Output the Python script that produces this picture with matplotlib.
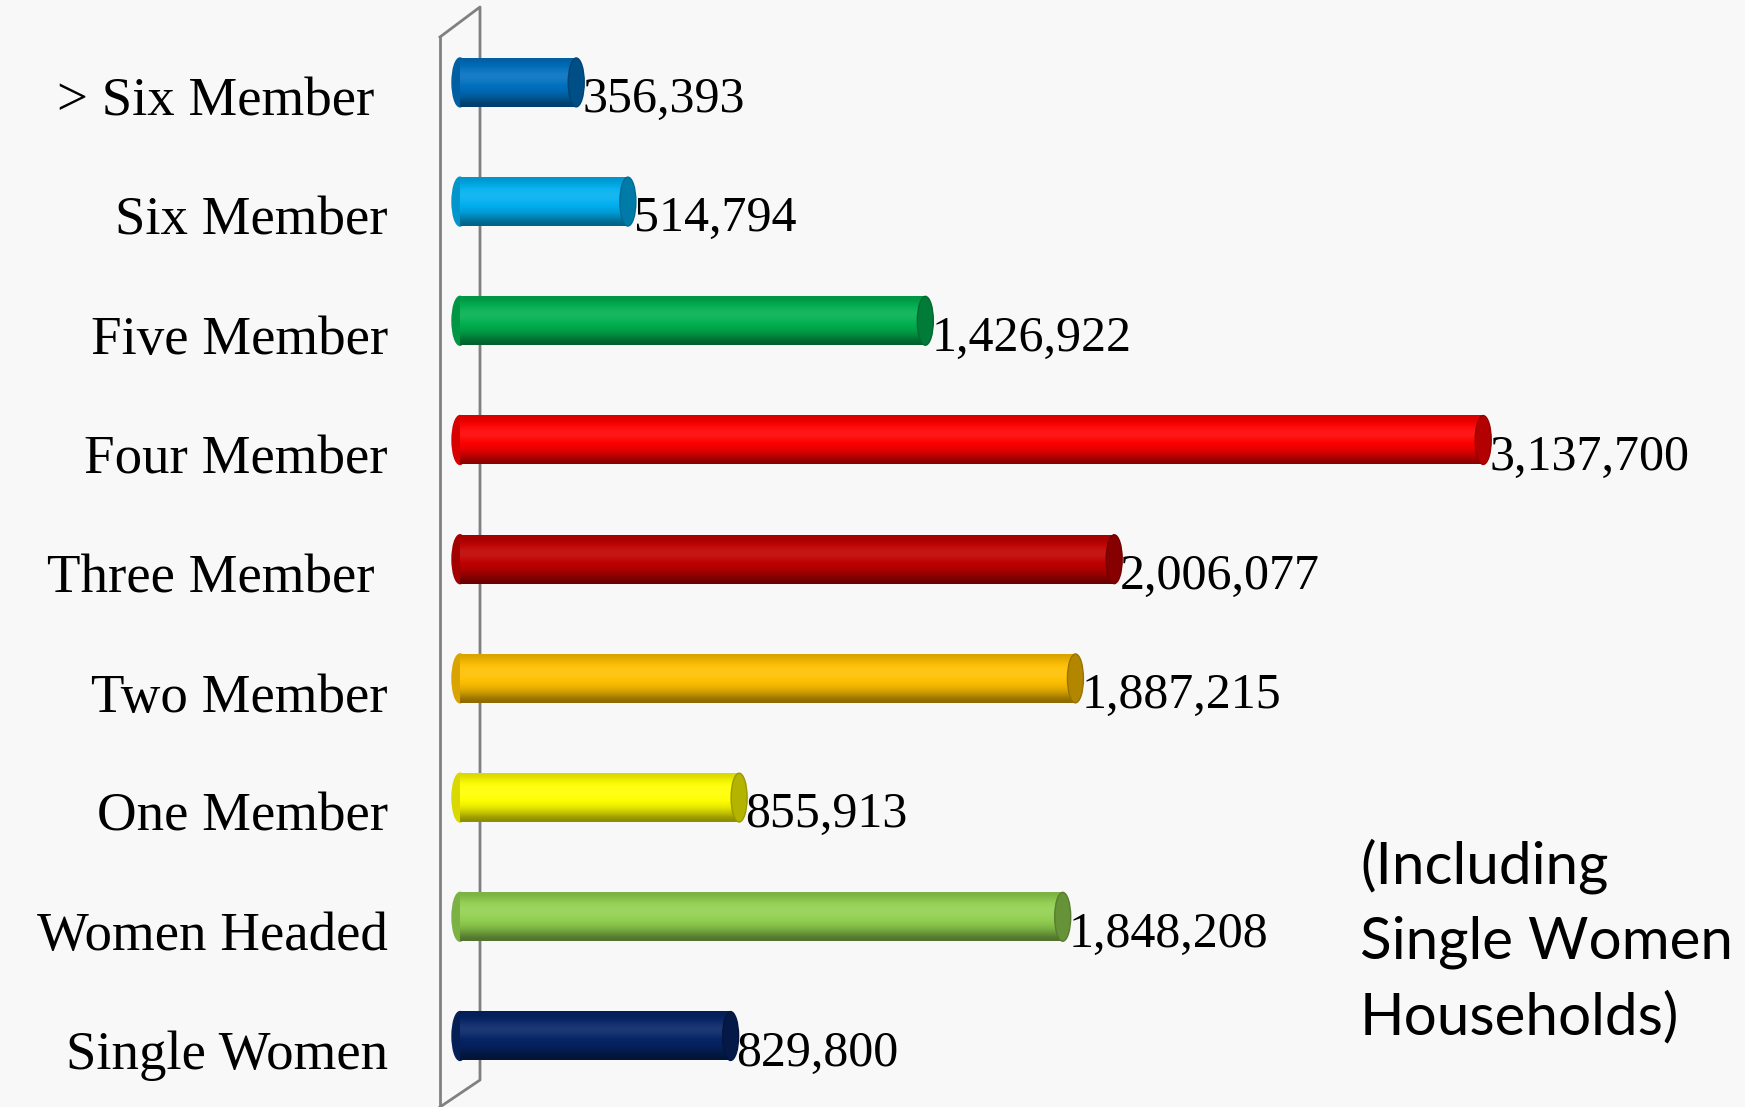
import numpy as np
import matplotlib
matplotlib.use("Agg")
import matplotlib.pyplot as plt
from matplotlib.patches import Ellipse
from matplotlib.lines import Line2D
from matplotlib.colors import to_rgb
from matplotlib.transforms import blended_transform_factory

# data (bottom to top)
categories = ["Single Women", "Women Headed", "One Member", "Two Member",
              "Three Member ", "Four Member", "Five Member", "Six Member",
              "> Six Member "]
values = [829800, 1848208, 855913, 1887215, 2006077, 3137700, 1426922,
          514794, 356393]
colors = ["#062466", "#92d050", "#ffff00", "#ffc000", "#c00000", "#ff0000",
          "#00b050", "#00b0f0", "#0070c0"]
note = "(Including\nSingle Women\nHouseholds)"

W, H = 1745, 1107
px_per_unit = 3.261e-4   # figure pixels per household
x0_px = 460              # pixel where value 0 sits
row_px = 119.2
bottom_px = 71
bar_h = 0.41
cap_w = 16 / px_per_unit

fig = plt.figure(figsize=(W / 100, H / 100), dpi=100)
fig.patch.set_facecolor("#f8f8f8")
ax = fig.add_axes([0, 0, 1, 1])
ax.axis("off")

# wall drawn behind bars
wall = dict(color="#808080", lw=2.0, transform=fig.transFigure, zorder=0)
def fx(x): return x / W
def fy(y): return 1 - y / H
fig.add_artist(Line2D([fx(440), fx(440)], [fy(37), fy(1110)], **wall))
fig.add_artist(Line2D([fx(440), fx(480), fx(480), fx(440)],
                      [fy(37), fy(7), fy(1080), fy(1107)], **wall))


def shade(c, f):
    c = np.array(to_rgb(c))
    if f < 1:
        return c * f
    return c + (1 - c) * (f - 1)


# vertical profile of the cylinder (bottom -> top)
prof = np.array([0.55, 0.7, 0.85, 0.95, 1.0, 1.08, 1.1, 1.05, 0.95, 0.85])

for i, (v, c) in enumerate(zip(values, colors)):
    img = np.array([[shade(c, f)] for f in prof])
    img = np.clip(img, 0, 1)
    ax.add_patch(Ellipse((0, i), cap_w, bar_h, color=shade(c, 0.85), zorder=2))
    ax.imshow(img, extent=[0, v, i - bar_h / 2, i + bar_h / 2],
              aspect="auto", interpolation="bicubic", origin="lower", zorder=3)
    ax.add_patch(Ellipse((v, i), cap_w, bar_h, facecolor=shade(c, 0.7),
                         edgecolor=shade(c, 0.6), lw=1, zorder=4))
    ax.annotate(f"{v:,}", (v, i - 0.25), xytext=(6, 0),
                textcoords="offset pixels", ha="left", va="baseline",
                fontsize=36, family="Liberation Serif", color="black")

ax.set_xlim(-x0_px / px_per_unit, (W - x0_px) / px_per_unit)
ax.set_ylim(-bottom_px / row_px, (H - bottom_px) / row_px)

tr = blended_transform_factory(fig.transFigure, ax.transData)
for i, lab in enumerate(categories):
    ax.text(388 / W, i - 0.28, lab, transform=tr, ha="right", va="baseline",
            fontsize=39.5, family="Liberation Serif", color="black")

fig.text(1360 / W, 1 - 838 / H, note, ha="left", va="top", fontsize=42,
         family="Lato", color="black", linespacing=1.5)

fig.savefig("out.png", dpi=100, facecolor=fig.get_facecolor())
